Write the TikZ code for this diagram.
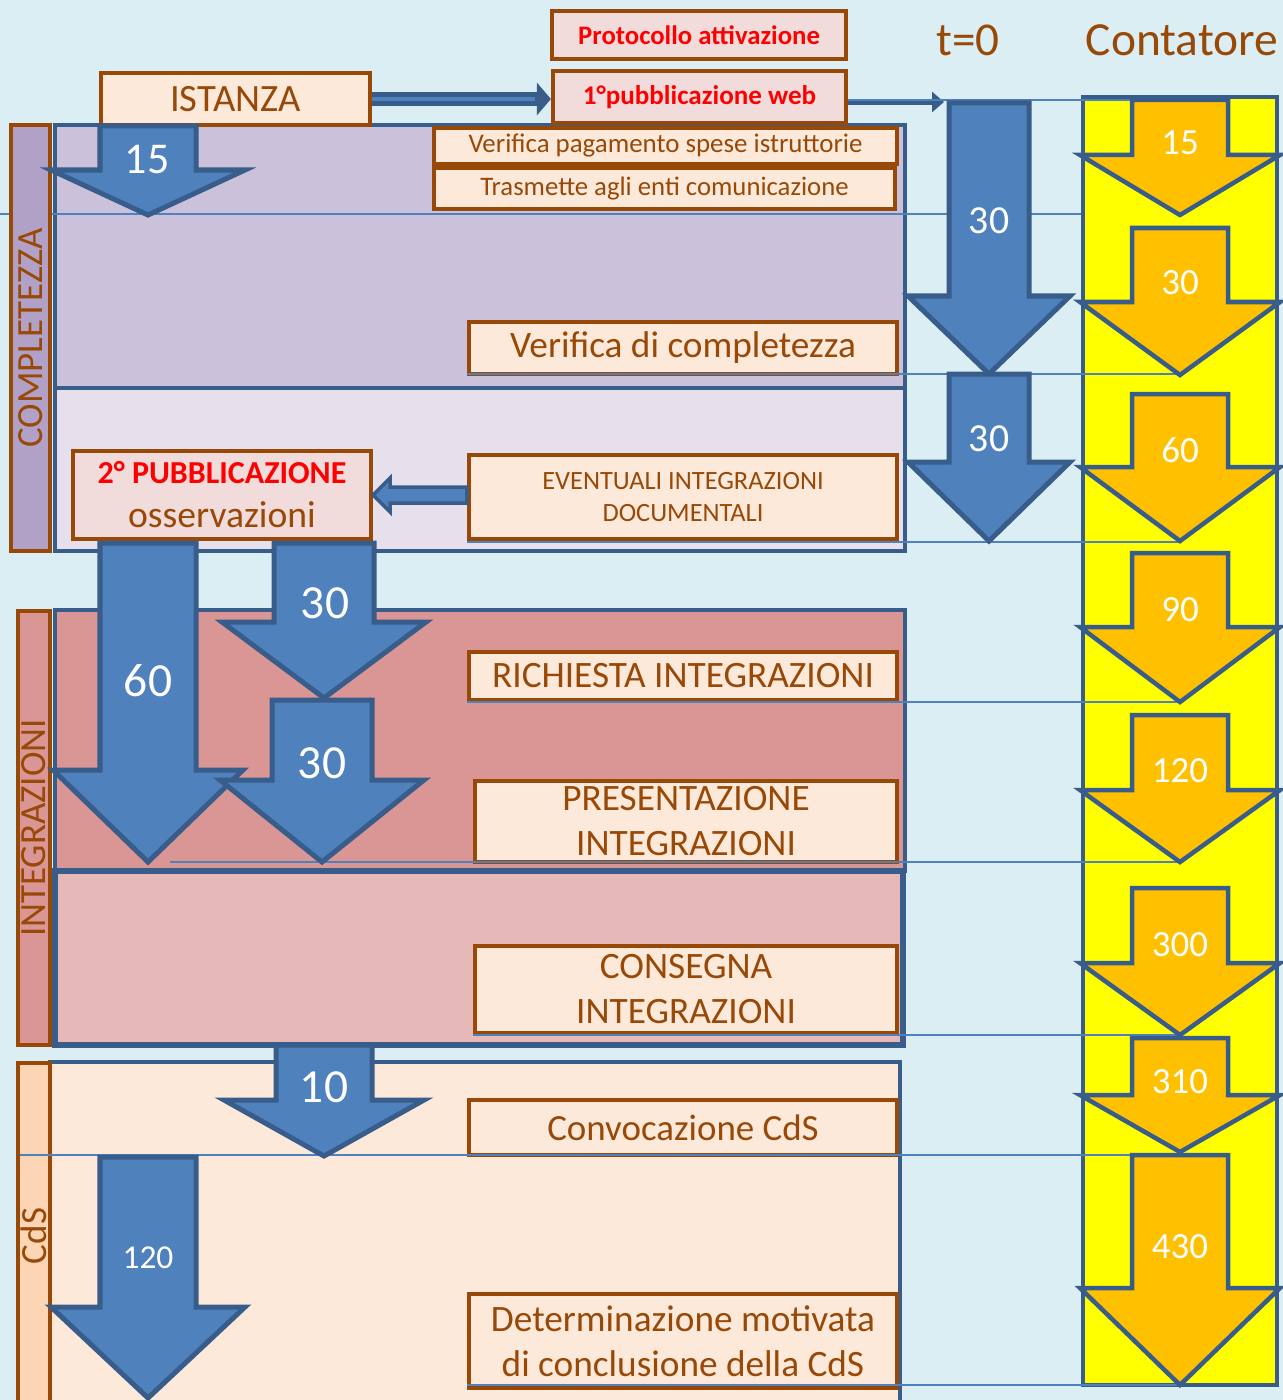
\documentclass[tikz,border=0pt]{standalone}
\usepackage{fontspec}
\setmainfont{Carlito}
\usepackage{tikz}
\usetikzlibrary{arrows.meta, calc}
\definecolor{sfondo}{HTML}{DBEEF4}
\definecolor{marrone}{HTML}{984807}
\definecolor{pesca}{HTML}{FDE9D9}
\definecolor{rosa}{HTML}{F2DCDB}
\definecolor{bluscuro}{HTML}{385D8A}
\definecolor{blu}{HTML}{4F81BD}
\definecolor{lilla}{HTML}{CCC1DA}
\definecolor{lillachiaro}{HTML}{E5E0EC}
\definecolor{lillascuro}{HTML}{B2A1C7}
\definecolor{rossoint}{HTML}{D99694}
\definecolor{rosachiaro}{HTML}{E6B9B8}
\definecolor{pescascuro}{HTML}{FCD5B5}
\definecolor{giallo}{HTML}{FFFF00}
\definecolor{arancio}{HTML}{FFC000}
\tikzset{
    box/.style={draw=marrone, line width=0.04cm, fill=pesca, text=marrone,
        inner sep=0pt, align=center},
    boxrosso/.style={box, fill=rosa, text=red},
    fascia/.style={draw=bluscuro, line width=0.04cm},
    lato/.style={draw=marrone, line width=0.04cm, text=marrone, inner sep=0pt,
        rotate=90, font=\fontsize{10.5}{12}\selectfont},
    frecciablu/.style={fill=blu, draw=bluscuro, line width=0.05cm},
    frecciaarancio/.style={fill=arancio, draw=bluscuro, line width=0.045cm},
    numero/.style={text=white, inner sep=0pt},
    riga/.style={draw=blu, line width=0.015cm}
}
% #1 style, #2 centre x, #3 half shaft, #4 half head, #5 top, #6 head base, #7 tip
\newcommand{\freccia}[7]{%
    \draw[#1] (#2-#3,#5) -- (#2+#3,#5) -- (#2+#3,#6) -- (#2+#4,#6) -- (#2,#7)
        -- (#2-#4,#6) -- (#2-#3,#6) -- cycle;}

\begin{document}
\begin{tikzpicture}[x=0.01cm, y=-0.01cm]
        \useasboundingbox (0,0) rectangle (1283,1400);
        \fill[sfondo] (0,0) rectangle (1283,1400);

        % fasce
        \draw[fascia, fill=lilla] (55,125) rectangle (905,388);
        \draw[fascia, fill=lillachiaro] (55,388) rectangle (905,551);
        \draw[fascia, fill=rossoint] (55,610) rectangle (905,871);
        \draw[fascia, fill=rosachiaro, line width=0.06cm] (55,871) rectangle (903,1045);
        \draw[fascia, fill=pesca] (50,1062) rectangle (900,1420);
        \draw[riga] (0,214) -- (1180,214);

        \node[lato, fill=lillascuro, minimum width=4.26cm, minimum height=0.39cm] (completezza) at (30.5,338) {COMPLETEZZA};
        \node[lato, fill=rossoint, minimum width=4.33cm, minimum height=0.32cm] (integrazioni) at (34,828) {INTEGRAZIONI};
        \node[lato, fill=pescascuro, minimum width=3.46cm, minimum height=0.32cm] (cds) at (34,1236) {CdS};

        % contatore
        \draw[fascia, fill=giallo] (1083,97) rectangle (1277,1385);
        \node[text=marrone, font=\fontsize{13.4}{15}\selectfont] (tzero) at (968,40) {t=0};
        \node[text=marrone, font=\fontsize{13.5}{15}\selectfont] (contatore) at (1182,40) {Contatore};

        % caselle
        \node[boxrosso, minimum width=2.94cm, minimum height=0.48cm, font=\bfseries\fontsize{7.6}{9}\selectfont] (protocollo) at (699,35) {Protocollo attivazione};
        \node[boxrosso, minimum width=2.93cm, minimum height=0.52cm, font=\bfseries\fontsize{7.7}{10}\selectfont] (pubb1) at (699.5,97) {1°pubblicazione web};
        \node[box, minimum width=2.69cm, minimum height=0.52cm, font=\fontsize{11}{13}\selectfont] (istanza) at (235.5,99) {ISTANZA};
        \node[box, minimum width=4.63cm, minimum height=0.36cm, font=\fontsize{7.65}{10}\selectfont] (verpag) at (665.5,146) {Verifica pagamento spese istruttorie};
        \node[box, minimum width=4.61cm, minimum height=0.41cm, font=\fontsize{7.6}{9}\selectfont] (trasm) at (664.5,188.5) {Trasmette agli enti comunicazione};
        \node[box, minimum width=4.28cm, minimum height=0.52cm, font=\fontsize{10.6}{13}\selectfont] (vercompl) at (683,348) {Verifica di completezza};
        \node[box, minimum width=4.28cm, minimum height=0.84cm, font=\fontsize{7.5}{9.1}\selectfont] (evint) at (683,497) {EVENTUALI INTEGRAZIONI\\DOCUMENTALI};
        \node[boxrosso, minimum width=2.98cm, minimum height=0.88cm, text=marrone, font=\fontsize{10.7}{12.5}\selectfont] (pubb2) at (222,495) {{\color{red}\bfseries\fontsize{9.1}{10}\selectfont 2° PUBBLICAZIONE}\\osservazioni};
        \node[box, minimum width=4.28cm, minimum height=0.48cm, font=\fontsize{10.6}{12.8}\selectfont] (richiesta) at (683,676) {RICHIESTA INTEGRAZIONI};
        \node[box, minimum width=4.22cm, minimum height=0.81cm, font=\fontsize{10.6}{12.8}\selectfont] (present) at (686,821.5) {PRESENTAZIONE\\INTEGRAZIONI};
        \node[box, minimum width=4.22cm, minimum height=0.87cm, font=\fontsize{10.6}{12.8}\selectfont] (consegna) at (686,989.5) {CONSEGNA\\INTEGRAZIONI};
        \node[box, minimum width=4.28cm, minimum height=0.55cm, font=\fontsize{10.5}{12.5}\selectfont] (convoc) at (683,1127.5) {Convocazione CdS};
        \node[box, minimum width=4.28cm, minimum height=0.94cm, font=\fontsize{10.6}{12.8}\selectfont] (determ) at (683,1341) {Determinazione motivata\\di conclusione della CdS};

        % collegamenti
        \coordinate (tzeroin) at (944,102);
        \draw[-{Triangle[length=0.14cm,width=0.32cm]}, line width=0.14cm, draw=bluscuro, fill=bluscuro] (istanza.east) -- (istanza.east -| pubb1.west);
        \draw[line width=0.04cm, blu, shorten >=0.16cm] (istanza.east) -- (istanza.east -| pubb1.west);
        \draw[-{Triangle[length=0.12cm,width=0.2cm]}, line width=0.06cm, bluscuro] (pubb1.east |- tzeroin) -- (tzeroin);
        \draw[frecciablu, line width=0.035cm] (pubb2.east) -- ($(pubb2.east)+(17,-17)$) -- ($(pubb2.east)+(17,-8)$)
            -- ($(evint.west)+(0,-10)$) -- ($(evint.west)+(0,6)$) -- ($(pubb2.east)+(17,8)$) -- ($(pubb2.east)+(17,17)$) -- cycle;

        % righe orizzontali
        \draw[riga] (848,100) -- (1180,100);
        \draw[riga] (467,374) -- (1180,374);
        \draw[riga] (467,542) -- (1180,542);
        \draw[riga] (467,702) -- (1180,702);
        \draw[riga] (170,862) -- (1180,862);
        \draw[riga] (473,1035) -- (1180,1035);
        \draw[riga] (20,1155) -- (1180,1155);
        \draw[riga] (467,1385) -- (1180,1385);

        % frecce blu
        \freccia{frecciablu}{148}{48}{97}{126}{170}{215}
        \freccia{frecciablu}{989}{40}{81}{103}{296}{374}
        \freccia{frecciablu}{989}{40}{81}{374}{462}{541}
        \freccia{frecciablu}{148}{48}{95}{543}{770}{862}
        \freccia{frecciablu}{324}{50}{102}{543}{622}{698}
        \freccia{frecciablu}{322}{50}{102}{700}{780}{862}
        \freccia{frecciablu}{324}{48}{100}{1045}{1100}{1156}
        \freccia{frecciablu}{148}{48}{97}{1157}{1307}{1398}
        \node[numero, font=\fontsize{12.5}{14}\selectfont] (g15) at (147,160) {15};
        \node[numero, font=\fontsize{11.3}{13}\selectfont] (t30a) at (989,221) {30};
        \node[numero, font=\fontsize{11.3}{13}\selectfont] (t30b) at (989,439) {30};
        \node[numero, font=\fontsize{13.5}{15}\selectfont] (g60) at (148,681) {60};
        \node[numero, font=\fontsize{13.5}{15}\selectfont] (g30a) at (325,603) {30};
        \node[numero, font=\fontsize{13.5}{15}\selectfont] (g30b) at (322,763) {30};
        \node[numero, font=\fontsize{13.5}{15}\selectfont] (g10) at (324,1087) {10};
        \node[numero, font=\fontsize{9.5}{11}\selectfont] (g120) at (148,1258) {120};

        % frecce del contatore
        \foreach \alto/\base/\punta/\val/\ly in {100/155/215/15/143, 228/302/375/30/283,
            394/467/541/60/450, 553/627/702/90/610, 715/790/862/120/771,
            888/963/1035/300/945, 1038/1095/1152/310/1082, 1155/1288/1385/430/1247}{
            \freccia{frecciaarancio}{1180}{48}{100}{\alto}{\base}{\punta}
            \node[numero, font=\fontsize{10.5}{12}\selectfont] (c\val) at (1180,\ly) {\val};
        }
\end{tikzpicture}
\end{document}
